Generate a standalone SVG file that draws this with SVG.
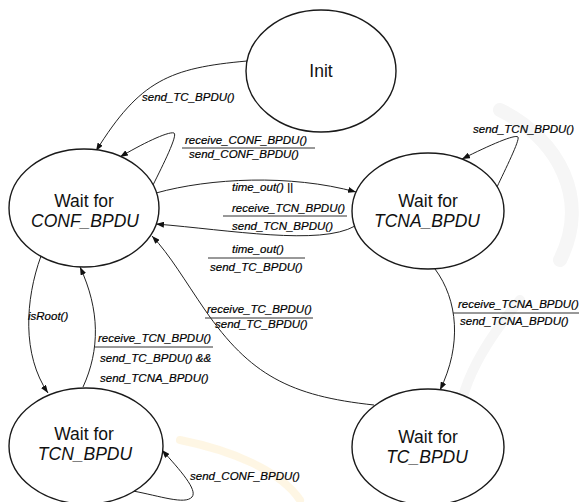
<svg xmlns="http://www.w3.org/2000/svg" width="579" height="502" viewBox="0 0 579 502">
<style>
.bg{fill:#ffffff}
.wm{fill:none;stroke:#f6f6f6;stroke-linecap:round}
.node{fill:#ffffff;stroke:#1a1a1a;stroke-width:1.4}
.nt{font-family:"Liberation Sans",Arial,sans-serif;font-size:17.5px;fill:#111;text-anchor:middle}
.ni{font-style:italic}
.edge{fill:none;stroke:#222;stroke-width:1}
.lbl{font-family:"Liberation Sans",Arial,sans-serif;font-size:11.5px;font-style:italic;fill:#000;stroke:#000;stroke-width:0.2}
.bar{stroke:#333;stroke-width:1}
</style>
<defs>
<marker id="arr" viewBox="0 0 8 6" refX="8" refY="3" markerWidth="8" markerHeight="6" markerUnits="userSpaceOnUse" orient="auto">
<path d="M0,0 L8,3 L0,6 z" fill="#111"/>
</marker>
</defs>
<rect class="bg" x="0" y="0" width="579" height="502"/>
<g id="watermark">
<path class="wm" d="M500 110 C560 140 590 200 560 260" stroke-width="14"/>
<path class="wm" d="M520 300 C470 360 440 420 470 480" stroke-width="10"/>
<path d="M180 440 C230 450 280 470 300 500" fill="none" stroke="#fdf0d2" stroke-width="8" stroke-linecap="round" opacity="0.6"/>
</g>
<g id="connectors">
<path class="edge" d="M247 61 C170 68 140 80 96 151" marker-end="url(#arr)"/>
<path class="edge" d="M153 185 C163 165 178 135 174 133 C168 131 140 145 120 157" marker-end="url(#arr)"/>
<path class="edge" d="M156 193 C210 178 290 174 356 192" marker-end="url(#arr)"/>
<path class="edge" d="M355 226 C320 246 230 230 156 224" marker-end="url(#arr)"/>
<path class="edge" d="M374 405 C290 396 250 375 205 310 C185 281 170 255 152 236" marker-end="url(#arr)"/>
<path class="edge" d="M41 256 C25 300 22 355 48 393" marker-end="url(#arr)"/>
<path class="edge" d="M83 387 C100 350 100 310 80 267" marker-end="url(#arr)"/>
<path class="edge" d="M133 491 C160 496 185 505 192 497 C198 490 180 470 162 450" marker-end="url(#arr)"/>
<path class="edge" d="M497 187 C505 170 520 140 518 137 C515 134 490 145 462 159" marker-end="url(#arr)"/>
<path class="edge" d="M435 269 C458 300 462 345 440 390" marker-end="url(#arr)"/>
</g>
<g id="labels">
<text class="lbl" x="142" y="101">send_TC_BPDU()</text>
<text class="lbl" x="185" y="144">receive_CONF_BPDU()</text>
<line class="bar" x1="182" y1="148" x2="315" y2="148"/>
<text class="lbl" x="189" y="158">send_CONF_BPDU()</text>
<text class="lbl" x="232" y="191">time_out() ||</text>
<text class="lbl" x="232" y="212">receive_TCN_BPDU()</text>
<line class="bar" x1="223" y1="216" x2="347" y2="216"/>
<text class="lbl" x="232" y="230">send_TCN_BPDU()</text>
<text class="lbl" x="232" y="253">time_out()</text>
<line class="bar" x1="208" y1="258" x2="305" y2="258"/>
<text class="lbl" x="210" y="271">send_TC_BPDU()</text>
<text class="lbl" x="207" y="313">receive_TC_BPDU()</text>
<line class="bar" x1="205" y1="318" x2="313" y2="318"/>
<text class="lbl" x="215" y="328">send_TC_BPDU()</text>
<text class="lbl" x="28" y="320">isRoot()</text>
<text class="lbl" x="98" y="342">receive_TCN_BPDU()</text>
<line class="bar" x1="95" y1="347" x2="213" y2="347"/>
<text class="lbl" x="100" y="362">send_TC_BPDU() &amp;&amp;</text>
<text class="lbl" x="100" y="382">send_TCNA_BPDU()</text>
<text class="lbl" x="190" y="480">send_CONF_BPDU()</text>
<text class="lbl" x="473" y="133">send_TCN_BPDU()</text>
<text class="lbl" x="458" y="308">receive_TCNA_BPDU()</text>
<line class="bar" x1="453" y1="313" x2="579" y2="313"/>
<text class="lbl" x="460" y="325">send_TCNA_BPDU()</text>
</g>
<g id="node-init">
<ellipse class="node" cx="321" cy="71" rx="75" ry="61"/>
<text class="nt" x="321" y="77">Init</text>
</g>
<g id="node-conf">
<ellipse class="node" cx="84" cy="208" rx="75" ry="59"/>
<text class="nt" x="84" y="207">Wait for</text>
<text class="nt ni" x="85" y="227">CONF_BPDU</text>
</g>
<g id="node-tcna">
<ellipse class="node" cx="428" cy="211" rx="76" ry="58"/>
<text class="nt" x="428" y="207">Wait for</text>
<text class="nt ni" x="427" y="227">TCNA_BPDU</text>
</g>
<g id="node-tcn">
<ellipse class="node" cx="86" cy="446" rx="77" ry="58"/>
<text class="nt" x="84" y="440">Wait for</text>
<text class="nt ni" x="85" y="460">TCN_BPDU</text>
</g>
<g id="node-tc">
<ellipse class="node" cx="428" cy="447" rx="76" ry="58"/>
<text class="nt" x="428" y="443">Wait for</text>
<text class="nt ni" x="427" y="463">TC_BPDU</text>
</g>
</svg>
